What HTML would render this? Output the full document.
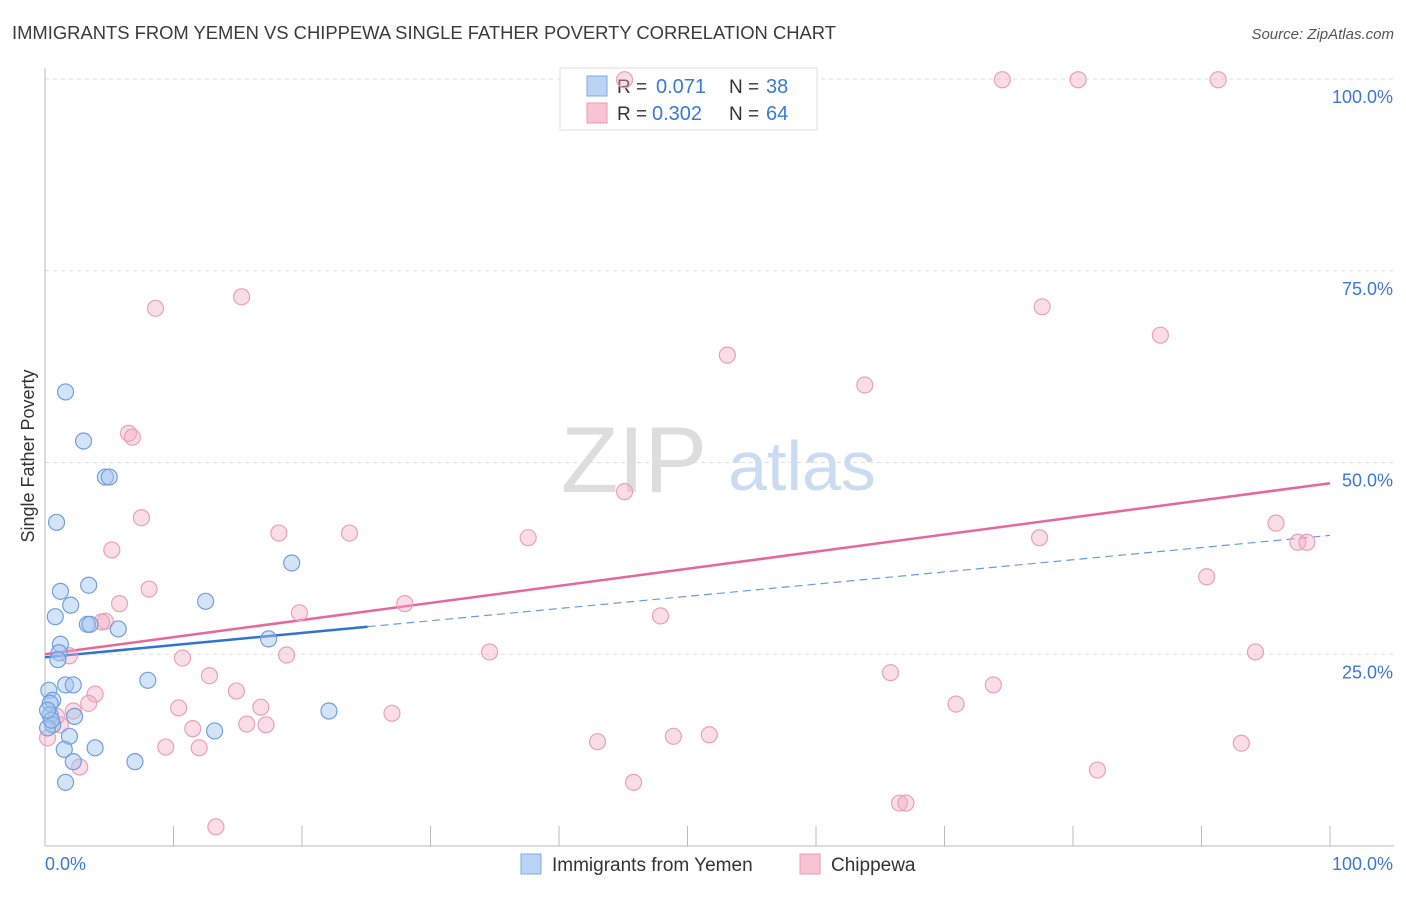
<!DOCTYPE html>
<html><head><meta charset="utf-8"><style>
body{margin:0;background:#fff;font-family:"Liberation Sans",sans-serif;}
svg text{font-family:"Liberation Sans",sans-serif;}
</style></head><body>
<svg id="chart" width="1406" height="892" viewBox="0 0 1406 892" xmlns="http://www.w3.org/2000/svg">
<text x="12" y="39" font-size="18.4" fill="#3a3a3a">IMMIGRANTS FROM YEMEN VS CHIPPEWA SINGLE FATHER POVERTY CORRELATION CHART</text>
<text x="1394" y="39" font-size="15" fill="#555" font-style="italic" text-anchor="end">Source: ZipAtlas.com</text>
<text transform="translate(34,456) rotate(-90)" font-size="18" fill="#333" text-anchor="middle">Single Father Poverty</text>
<g id="grid"></g>
<g>
<text x="634" y="492" font-size="94" fill="#ddd" text-anchor="middle" font-family="Liberation Serif,serif">ZIP</text>
<text x="802" y="490" font-size="70" fill="#c9dcf2" text-anchor="middle">atlas</text>
</g>
<g id="trends"></g>
<g>
<rect x="560" y="68" width="257" height="62" fill="#fff" stroke="#ddd"/>
<rect x="587" y="76" width="20" height="20" fill="#b9d4f5" stroke="#7fa9e0"/>
<text x="617" y="93" font-size="19" fill="#333">R = </text><text x="656" y="93" font-size="20" fill="#3a78d8">0.071</text>
<text x="729" y="93" font-size="19" fill="#333">N = </text><text x="766" y="93" font-size="20" fill="#3a78d8">38</text>
<rect x="587" y="103" width="20" height="20" fill="#f8c4d4" stroke="#ec9ab5"/>
<text x="617" y="120" font-size="19" fill="#333">R = </text><text x="652" y="120" font-size="20" fill="#3a78d8">0.302</text>
<text x="729" y="120" font-size="19" fill="#333">N = </text><text x="766" y="120" font-size="20" fill="#3a78d8">64</text>
</g>
<g id="points"></g>
<g>
<rect x="521" y="854" width="20" height="20" fill="#b9d4f5" stroke="#7fa9e0"/>
<text x="552" y="871" font-size="19" fill="#333">Immigrants from Yemen</text>
<rect x="800" y="854" width="20" height="20" fill="#f8c4d4" stroke="#ec9ab5"/>
<text x="831" y="871" font-size="19" fill="#333">Chippewa</text>
</g>
</svg>
<script>
const yemenX=[1.6,3.0,4.7,5.0,0.9,1.2,3.4,2.0,0.8,3.3,3.5,5.7,1.2,1.1,1.0,0.3,1.6,2.2,0.6,0.4,8.0,12.5,19.2,17.4,22.1,2.3,0.4,0.6,0.2,1.9,1.5,3.9,2.2,7.0,1.6,13.2,0.5,0.2];
const yemenY=[59.2,52.8,48.1,48.1,42.2,33.2,34.0,31.4,29.9,28.9,28.9,28.3,26.3,25.2,24.3,20.3,21.0,21.0,19.0,18.6,21.6,31.9,36.9,27.0,17.6,16.9,17.1,15.8,15.4,14.3,12.6,12.8,11.0,11.0,8.3,15.0,16.4,17.7];
const chipX=[45.1,74.5,80.4,91.3,8.6,15.3,77.6,86.8,53.1,63.8,6.5,6.8,45.1,7.5,5.2,18.2,23.7,37.6,77.4,95.8,97.5,98.2,90.4,8.1,5.8,28.0,19.8,47.9,4.7,4.4,1.9,10.7,18.8,34.6,94.2,65.8,3.9,12.8,14.9,73.8,3.4,10.4,16.8,70.9,27.0,2.2,0.9,1.2,15.7,17.2,11.5,9.4,12.0,43.0,48.9,51.7,93.1,2.7,81.9,45.8,66.5,67.0,13.3,0.2];
const chipY=[99.9,99.9,99.9,99.9,70.1,71.6,70.3,66.6,64.0,60.1,53.8,53.3,46.2,42.8,38.6,40.8,40.8,40.2,40.2,42.1,39.6,39.6,35.1,33.5,31.6,31.6,30.4,30.0,29.3,29.2,24.8,24.5,24.9,25.3,25.3,22.6,19.8,22.2,20.2,21.0,18.6,18.0,18.1,18.5,17.3,17.6,16.9,15.8,15.9,15.8,15.3,12.9,12.8,13.6,14.3,14.5,13.4,10.3,9.9,8.3,5.6,5.6,2.5,14.1];
const yemenTrend=[24.6,40.5];
const yemenSolidEnd=25.1;
const chipTrend=[25.0,47.3];
const yTicks=[25,50,75,100];
const yTickLabels=["25.0%","50.0%","75.0%","100.0%"];
const xTicks=[0,10,20,30,40,50,60,70,80,90,100];

const NS="http://www.w3.org/2000/svg";
const sx=v=>45+v*12.85;
const sy=v=>846-v*7.67;
function mk(tag,attrs,parent){const e=document.createElementNS(NS,tag);for(const k in attrs)e.setAttribute(k,attrs[k]);parent.appendChild(e);return e;}
const grid=document.getElementById('grid');
for(let i=0;i<yTicks.length;i++){
  const l=mk('line',{x1:45,x2:1394,y1:sy(yTicks[i]),y2:sy(yTicks[i]),stroke:'#ddd','stroke-dasharray':'4,4'},grid);
  
  
  const t=mk('text',{x:1393,y:sy(yTicks[i])+24,'font-size':18,fill:'#3a78d8','text-anchor':'end'},grid);
  t.textContent=yTickLabels[i];
  
  
}
const ax=mk('line',{x1:45,x2:45,y1:68,y2:846,stroke:'#bbb'},grid);


const bx=mk('line',{x1:45,x2:1394,y1:846,y2:846,stroke:'#bbb'},grid);


for(const v of xTicks){
  const t=mk('line',{x1:sx(v),x2:sx(v),y1:826,y2:846,stroke:'#bbb'},grid);
  
  
}
const xl0=mk('text',{x:45,y:870,'font-size':18,fill:'#3a78d8'},grid);xl0.textContent="0.0%";


const xl1=mk('text',{x:1393,y:870,'font-size':18,fill:'#3a78d8','text-anchor':'end'},grid);xl1.textContent="100.0%";



const tr=document.getElementById('trends');
const yAt=(t,x)=>t[0]+(t[1]-t[0])*x/100;
const pl=mk('line',{x1:sx(0),y1:sy(yAt(chipTrend,0)),x2:sx(100),y2:sy(yAt(chipTrend,100)),stroke:'#e8679a','stroke-width':2.5},tr);


const bd=mk('line',{x1:sx(yemenSolidEnd),y1:sy(yAt(yemenTrend,yemenSolidEnd)),x2:sx(100),y2:sy(yAt(yemenTrend,100)),stroke:'#6a9be0','stroke-width':1.2,'stroke-dasharray':'8,5'},tr);


const bs=mk('line',{x1:sx(0),y1:sy(yAt(yemenTrend,0)),x2:sx(yemenSolidEnd),y2:sy(yAt(yemenTrend,yemenSolidEnd)),stroke:'#2f73d6','stroke-width':2.5},tr);



const pts=document.getElementById('points');
for(let i=0;i<chipX.length;i++){
  const c=mk('circle',{cx:sx(chipX[i]),cy:sy(chipY[i]),r:8,fill:'rgba(245,170,195,0.4)',stroke:'#eaa0b9','stroke-width':1.2},pts);
  
  
}
for(let i=0;i<yemenX.length;i++){
  const c=mk('circle',{cx:sx(yemenX[i]),cy:sy(yemenY[i]),r:8,fill:'rgba(160,195,240,0.45)',stroke:'#6f9fdc','stroke-width':1.2},pts);
  
  
}
</script>
</body></html>
